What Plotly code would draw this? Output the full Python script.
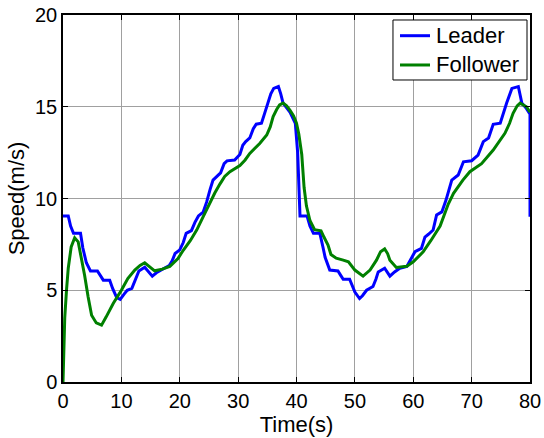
import plotly.graph_objects as go

# Leader speed profile (time s, speed m/s)
leader_t = [0, 0.9, 1.3, 1.8, 3.0, 3.4, 4.0, 4.7, 5.9, 6.4, 6.9, 8.0, 8.5, 9.2, 9.8, 10.5, 11.0, 11.8,
            12.4, 13.0, 14.0, 14.6, 15.3, 16.0, 17.0, 18.2, 18.7, 19.2, 20.0, 20.6, 21.1, 22.0, 22.6,
            23.2, 24.0, 24.6, 25.2, 25.7, 26.5, 27.0, 27.6, 28.1, 29.4, 30.3, 30.8, 31.3, 32.0, 32.6,
            33.1, 34.0, 34.5, 35.1, 35.6, 36.1, 36.9, 37.3, 37.7, 38.9, 39.8, 40.2, 40.6, 41.8, 42.3,
            42.9, 44.0, 44.5, 44.9, 45.7, 47.1, 47.6, 48.0, 49.1, 49.6, 50.0, 50.8, 51.3, 52.0, 53.1,
            53.6, 54.0, 55.1, 55.6, 56.0, 56.8, 57.7, 58.9, 59.6, 60.3, 61.4, 62.0, 62.6, 63.4, 64.0,
            64.9, 65.6, 66.6, 67.7, 68.6, 70.0, 71.1, 72.0, 72.9, 73.7, 74.9, 76.0, 76.9, 78.0, 78.6,
            79.4, 80.0, 80.0]
leader_v = [9.05, 9.05, 8.5, 8.1, 8.1, 7.3, 6.5, 6.05, 6.05, 5.8, 5.55, 5.55, 5.1, 4.6, 4.5, 4.8, 5.0, 5.1,
            5.6, 6.05, 6.25, 6.0, 5.77, 5.95, 6.15, 6.35, 6.6, 7.0, 7.2, 7.6, 8.1, 8.25, 8.7,
            9.05, 9.25, 9.8, 10.5, 11.0, 11.25, 11.4, 11.9, 12.05, 12.1, 12.4, 12.9, 13.1, 13.3, 13.8,
            14.05, 14.1, 14.6, 15.2, 15.7, 16.0, 16.1, 15.7, 15.2, 14.7, 14.1, 12.5, 9.05, 9.05, 8.5,
            8.1, 8.1, 7.4, 6.8, 6.1, 6.05, 5.8, 5.6, 5.6, 5.2, 4.9, 4.55, 4.7, 5.0, 5.2,
            5.6, 6.0, 6.2, 5.95, 5.77, 6.0, 6.2, 6.3, 6.7, 7.1, 7.28, 7.9, 8.05, 8.28, 9.1,
            9.27, 9.9, 11.0, 11.28, 12.0, 12.06, 12.37, 13.1, 13.3, 14.04, 14.1, 15.2, 16.0, 16.1, 15.2,
            14.9, 14.6, 9.0]

# Follower speed profile (time s, speed m/s)
follower_t = [0, 0.3, 0.6, 0.9, 1.4, 2.0, 2.6, 3.1, 3.7, 4.3, 4.9, 5.7, 6.6, 7.4, 8.6, 10.0, 11.1, 12.3,
              13.2, 14.0, 14.9, 15.7, 17.0, 18.3, 19.7, 20.6, 21.8, 22.9, 24.0, 25.1, 26.0, 26.9, 27.7,
              28.6, 29.5, 30.3, 31.2, 32.0, 33.7, 34.9, 35.5, 36.0, 36.6, 37.1, 37.7, 38.3, 38.9, 39.5,
              40.0, 40.4, 40.9, 41.3, 41.7, 42.3, 43.1, 44.2, 44.7, 45.4, 45.9, 46.8, 48.0, 48.9, 50.0,
              50.7, 51.4, 52.6, 53.7, 54.4, 55.1, 55.6, 56.0, 57.1, 58.0, 58.9, 60.0, 61.7, 63.0, 64.6,
              66.0, 66.9, 68.5, 69.7, 71.7, 73.7, 75.7, 76.5, 77.1, 77.8, 78.3, 79.4, 80.0]
follower_v = [0.0, 3.5, 5.0, 6.2, 7.36, 7.86, 7.64, 6.82, 5.82, 4.64, 3.64, 3.22, 3.1, 3.55, 4.28, 5.0, 5.64, 6.1,
              6.35, 6.5, 6.27, 6.06, 6.15, 6.3, 6.73, 7.18, 7.7, 8.28, 9.0, 9.73, 10.3, 10.8, 11.2,
              11.46, 11.65, 11.8, 12.1, 12.46, 13.0, 13.46, 13.9, 14.46, 14.85, 15.1, 15.2, 15.05, 14.8, 14.5,
              14.1, 13.5, 12.4, 10.6, 9.6, 8.8, 8.3, 8.24, 7.9, 7.46, 6.95, 6.75, 6.64, 6.55, 6.1,
              5.95, 5.77, 6.1, 6.64, 7.1, 7.25, 7.0, 6.64, 6.24, 6.28, 6.31, 6.55, 7.09, 7.7, 8.5,
              9.7, 10.28, 11.0, 11.46, 11.9, 12.64, 13.55, 14.1, 14.64, 15.05, 15.2, 15.0, 14.7]

x_ticks = [0, 10, 20, 30, 40, 50, 60, 70, 80]
y_ticks = [0, 5, 10, 15, 20]
series_names = ["Leader", "Follower"]
series_colors = ["#0000ff", "#008000"]

FONT = "Arial, Liberation Sans, sans-serif"

fig = go.Figure()
for name, color, tt, vv in zip(series_names, series_colors,
                               [leader_t, follower_t], [leader_v, follower_v]):
    fig.add_trace(go.Scatter(x=tt, y=vv, mode="lines", name=name,
                             line=dict(color=color, width=3), showlegend=False))

axis_common = dict(showline=True, linecolor="black", linewidth=1.5, mirror="ticks",
                   ticks="inside", ticklen=5, tickcolor="black", automargin=False,
                   showgrid=True, gridcolor="#a0a0a0", gridwidth=1, zeroline=False,
                   tickfont=dict(family=FONT, size=20, color="black"))

fig.update_xaxes(range=[0, 80], tickvals=x_ticks,
                 title=dict(text="Time(s)", font=dict(family=FONT, size=22, color="black"), standoff=2),
                 **axis_common)
fig.update_yaxes(range=[0, 20], tickvals=y_ticks,
                 title=dict(text="Speed(m/s)", font=dict(family=FONT, size=22, color="black"), standoff=4),
                 **axis_common)

# Legend box (MATLAB style) built from shapes + annotations, in paper coordinates
shapes = [dict(type="rect", xref="paper", yref="paper", x0=0.7066, x1=0.9936, y0=0.8229, y1=0.9864,
               fillcolor="white", line=dict(color="black", width=1), layer="above")]
annotations = []
row_y = [0.9436, 0.8638]
for name, color, yy in zip(series_names, series_colors, row_y):
    shapes.append(dict(type="line", xref="paper", yref="paper", x0=0.7216, x1=0.7859, y0=yy, y1=yy,
                       line=dict(color=color, width=3), layer="above"))
    annotations.append(dict(xref="paper", yref="paper", x=0.7945, y=yy, text=name, showarrow=False,
                            xanchor="left", yanchor="middle",
                            font=dict(family=FONT, size=22, color="black")))

fig.update_layout(
    width=544, height=438,
    margin=dict(l=63, r=14, t=15, b=56, autoexpand=False),
    paper_bgcolor="white", plot_bgcolor="white",
    font=dict(family=FONT, size=22, color="black"),
    showlegend=False,
    shapes=shapes,
    annotations=annotations,
)

fig.write_html("out.html")
